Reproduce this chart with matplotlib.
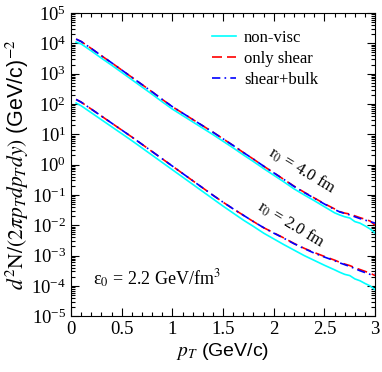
import numpy as np
import matplotlib
matplotlib.use("Agg")
import matplotlib.pyplot as plt
from matplotlib.ticker import LogLocator, MultipleLocator, NullFormatter

plt.rcParams['font.family'] = ['Liberation Serif', 'DejaVu Serif']
plt.rcParams['mathtext.fontset'] = 'stix'

# pT grid (GeV/c)
pt = [0.05, 0.1, 0.2, 0.3, 0.4, 0.5, 0.6, 0.7, 0.8, 0.9, 1.0, 1.1, 1.2, 1.3, 1.4, 1.5,
      1.6, 1.7, 1.8, 1.9, 2.0, 2.1, 2.2, 2.3, 2.4, 2.5, 2.6, 2.65, 2.7, 2.75, 2.8, 2.85, 2.9, 2.95, 3.0]

# log10 of spectra, r0 = 4.0 fm
r4_shear = [4.14, 4.06, 3.83, 3.59, 3.36, 3.12, 2.88, 2.64, 2.40, 2.15, 1.91, 1.70, 1.49, 1.28, 1.07, 0.85,
            0.63, 0.40, 0.18, -0.05, -0.27, -0.49, -0.71, -0.91, -1.10, -1.29, -1.46, -1.55, -1.60, -1.63,
            -1.69, -1.75, -1.80, -1.86, -2.00]
r4_bulk = [4.14, 4.06, 3.83, 3.59, 3.36, 3.12, 2.88, 2.64, 2.40, 2.15, 1.91, 1.70, 1.49, 1.28, 1.07, 0.85,
           0.63, 0.40, 0.18, -0.05, -0.27, -0.49, -0.72, -0.92, -1.11, -1.30, -1.48, -1.56, -1.61, -1.66,
           -1.72, -1.78, -1.83, -1.88, -1.93]
r4_nonvisc = [4.04, 3.98, 3.75, 3.51, 3.28, 3.04, 2.80, 2.56, 2.32, 2.07, 1.83, 1.62, 1.41, 1.20, 0.99, 0.77,
              0.55, 0.32, 0.10, -0.13, -0.35, -0.57, -0.80, -1.00, -1.19, -1.39, -1.59, -1.66, -1.72, -1.76,
              -1.88, -1.93, -2.02, -2.12, -2.26]

# log10 of spectra, r0 = 2.0 fm
r2_shear = [2.15, 2.06, 1.83, 1.60, 1.37, 1.14, 0.91, 0.67, 0.43, 0.19, -0.05, -0.29, -0.53, -0.77, -1.01, -1.24,
            -1.46, -1.67, -1.88, -2.08, -2.25, -2.42, -2.60, -2.76, -2.90, -3.03, -3.15, -3.22, -3.28, -3.33,
            -3.40, -3.46, -3.52, -3.58, -3.66]
r2_bulk = [2.15, 2.06, 1.83, 1.60, 1.37, 1.14, 0.91, 0.67, 0.43, 0.19, -0.05, -0.29, -0.53, -0.77, -1.01, -1.24,
           -1.46, -1.67, -1.88, -2.08, -2.26, -2.43, -2.61, -2.77, -2.92, -3.05, -3.17, -3.24, -3.30, -3.36,
           -3.43, -3.50, -3.56, -3.62, -3.60]
r2_nonvisc = [2.03, 1.94, 1.71, 1.48, 1.25, 1.02, 0.79, 0.55, 0.31, 0.07, -0.17, -0.41, -0.65, -0.89, -1.13, -1.37,
              -1.60, -1.83, -2.04, -2.26, -2.45, -2.64, -2.82, -3.00, -3.16, -3.32, -3.47, -3.55, -3.62, -3.66,
              -3.77, -3.83, -3.92, -4.00, -4.13]

fig = plt.figure(figsize=(3.82, 3.72), dpi=100)
ax = fig.add_axes([0.186, 0.150, 0.796, 0.815])

p = np.array(pt)
for nv, sh, bk in [(r4_nonvisc, r4_shear, r4_bulk), (r2_nonvisc, r2_shear, r2_bulk)]:
    l1, = ax.plot(p, 10**np.array(nv), color='#00ffff', lw=1.2, label='non-visc')
    l2, = ax.plot(p, 10**np.array(sh), color='#ff0000', lw=1.2, dashes=(6, 3), label='only shear')
    l3, = ax.plot(p, 10**np.array(bk), color='#0000ff', lw=1.2, dashes=(5, 2.5, 1, 2.5), label='shear+bulk')

ax.set_yscale('log')
ax.set_xlim(0, 3)
ax.set_ylim(1e-5, 1e5)
ax.xaxis.set_minor_locator(MultipleLocator(0.1))
ax.yaxis.set_major_locator(LogLocator(base=10, numticks=20))
ax.yaxis.set_minor_locator(LogLocator(base=10, subs=np.arange(2, 10), numticks=20))
ax.yaxis.set_minor_formatter(NullFormatter())
ax.set_xticks([0, 0.5, 1, 1.5, 2, 2.5, 3])
ax.set_xticklabels(['0', '0.5', '1', '1.5', '2', '2.5', '3'])
ax.tick_params(which='both', direction='in', top=True, right=True, labelsize=13.5)
ax.tick_params(which='major', length=6, width=0.8)
ax.tick_params(which='minor', length=3, width=0.8)

ax.set_xlabel(r'$p_T$ (GeV/c)', fontsize=14, family='Liberation Sans', labelpad=2)
ax.set_ylabel(r'$d^2\mathrm{N}/(2\pi p_T dp_T dy)$ (GeV/c)$^{-2}$', fontsize=15.5,
              family='Liberation Sans', labelpad=0)

ax.legend(handles=[l1, l2, l3], loc='upper left', bbox_to_anchor=(0.415, 0.995), frameon=False,
          fontsize=12, handlelength=1.4, handletextpad=0.5, labelspacing=0.3)

ax.text(2.28, 10**-0.18, r'r$_0$ = 4.0 fm', fontsize=12, rotation=-31, ha='center', va='center',
        rotation_mode='anchor')
ax.text(2.17, 10**-1.99, r'r$_0$ = 2.0 fm', fontsize=12, rotation=-31, ha='center', va='center',
        rotation_mode='anchor')
ax.text(0.22, 10**-3.75, r'ε$_0$ = 2.2 GeV/fm$^3$', fontsize=13, ha='left', va='center')

fig.savefig('out.png', dpi=100)
